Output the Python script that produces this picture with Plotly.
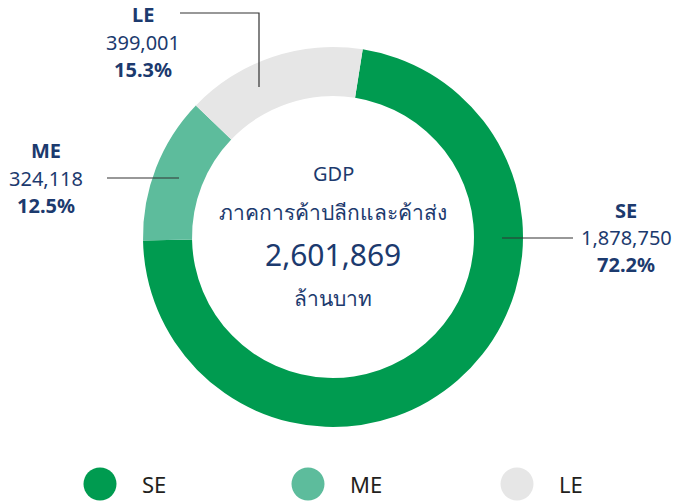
import plotly.graph_objects as go

categories = ["SE", "ME", "LE"]
values = [1878750, 324118, 399001]
percent_labels = ["72.2%", "12.5%", "15.3%"]
colors = ["#009B50", "#5DBC9C", "#E6E6E6"]
total_label = "2,601,869"
center_title = ["GDP", "ภาคการค้าปลีกและค้าส่ง"]
unit_label = "ล้านบาท"

W, H = 675, 502
navy = "#1C3A6E"
FONT = "Noto Sans, DejaVu Sans, sans-serif"

def px(x):
    return x / W

def py(y):
    return 1 - y / H

fig = go.Figure()
fig.add_trace(go.Pie(
    labels=categories, values=values, hole=0.742, sort=False,
    direction="clockwise", rotation=9,
    marker=dict(colors=colors, line=dict(width=0)),
    textinfo="none", hoverinfo="label+value+percent", showlegend=False,
    domain=dict(x=[px(143), px(523)], y=[py(427), py(47)]),
))

annotations = []
shapes = []

def txt(x, y, s, size, color=navy, xanchor="center"):
    annotations.append(dict(x=px(x), y=py(y), text=s, showarrow=False,
                            xanchor=xanchor, yanchor="middle",
                            font=dict(size=size, color=color, family=FONT),
                            xref="paper", yref="paper"))

# center text
cx = 333
txt(cx, 173, center_title[0], 20)
txt(cx, 212, center_title[1], 21)
txt(cx, 254, total_label, 30)
txt(cx, 298, unit_label, 21)

# outside labels: (center x, y of category row)
label_pos = {"SE": (626, 210), "ME": (46, 151), "LE": (143, 15)}
for cat, val, pct in zip(categories, values, percent_labels):
    lx, ly = label_pos[cat]
    txt(lx, ly, f"<b>{cat}</b>", 20)
    txt(lx, ly + 27, f"{val:,}", 20)
    txt(lx, ly + 54, f"<b>{pct}</b>", 20)

line_style = dict(color="#333333", width=1.2)
# leader lines
shapes.append(dict(type="path", xref="paper", yref="paper",
                   path=f"M {px(180)},{py(13)} L {px(259)},{py(13)} L {px(259)},{py(87)}",
                   line=line_style))
shapes.append(dict(type="line", xref="paper", yref="paper",
                   x0=px(107), y0=py(178), x1=px(179), y1=py(178), line=line_style))
shapes.append(dict(type="line", xref="paper", yref="paper",
                   x0=px(502), y0=py(238), x1=px(573), y1=py(238), line=line_style))

# legend
legend_x = [100, 308, 517]
ly = 484
r = 16.5
for cat, col, lxp in zip(categories, colors, legend_x):
    shapes.append(dict(type="circle", xref="paper", yref="paper",
                       x0=px(lxp - r), x1=px(lxp + r), y0=py(ly + r), y1=py(ly - r),
                       fillcolor=col, line=dict(width=0)))
    txt(lxp + 40, ly, cat, 22, color="#231F20", xanchor="left")

fig.update_layout(
    width=W, height=H, margin=dict(l=0, r=0, t=0, b=0),
    paper_bgcolor="white", plot_bgcolor="white",
    annotations=annotations, shapes=shapes, showlegend=False,
)
fig.write_html("out.html", config={"displayModeBar": False},
               post_script="document.body.style.margin='0px';")
